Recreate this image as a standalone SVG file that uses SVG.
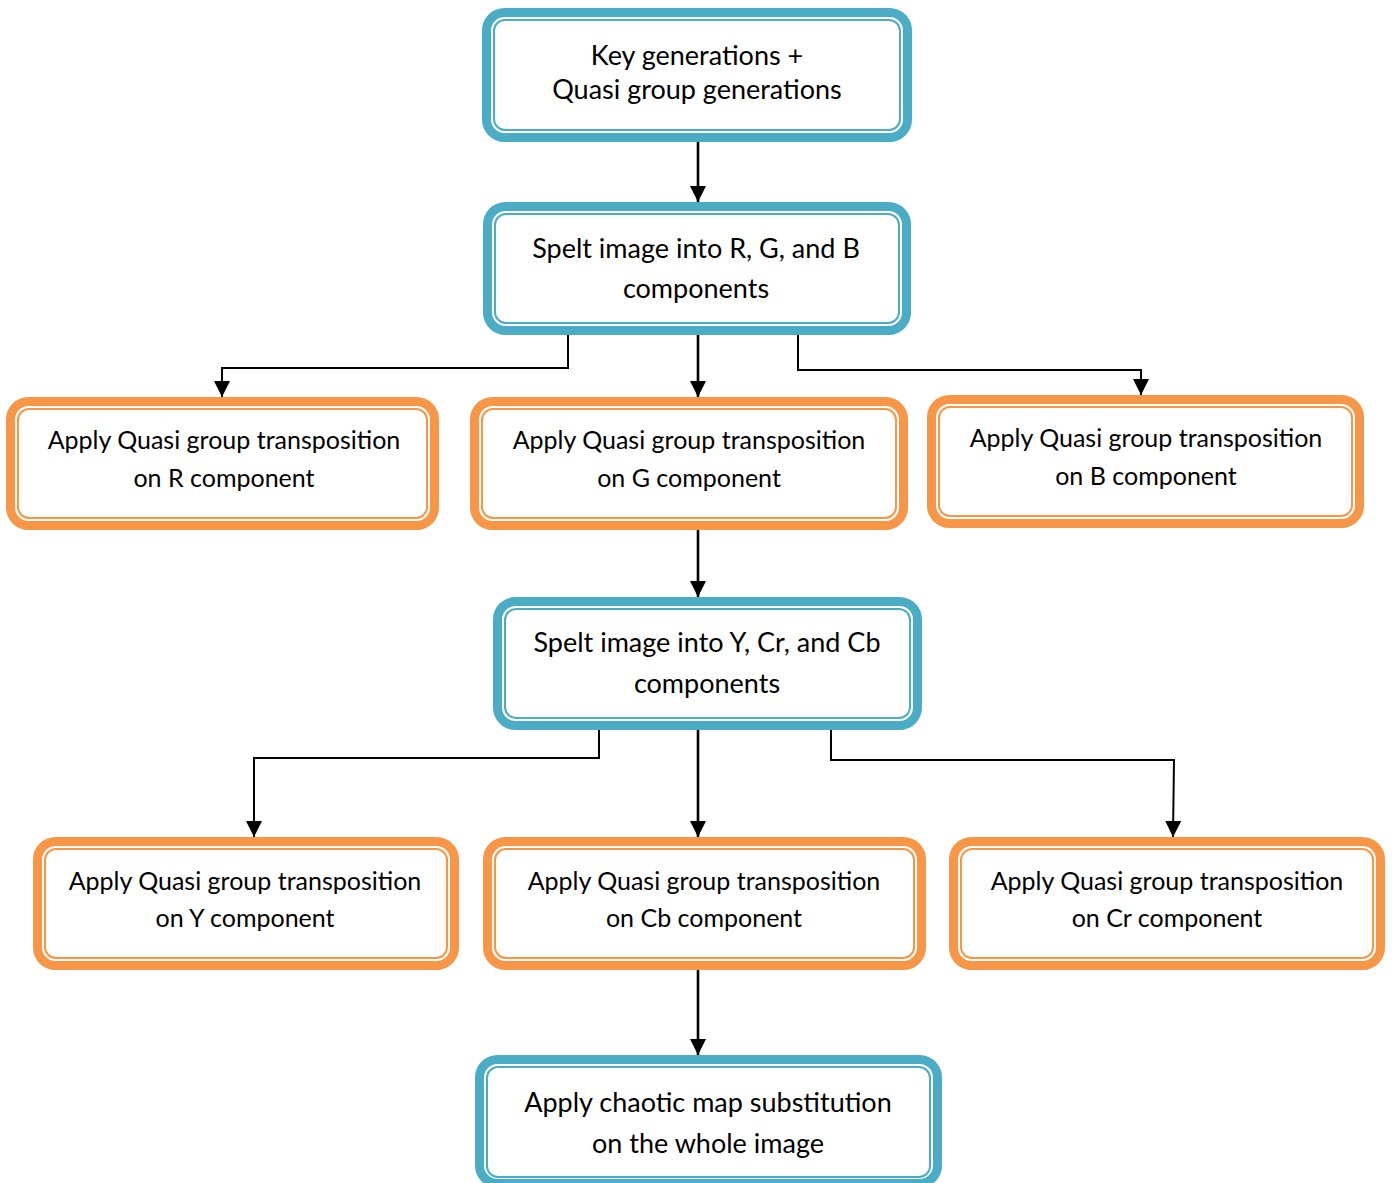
<svg xmlns="http://www.w3.org/2000/svg" width="1392" height="1183" viewBox="0 0 1392 1183">
  <style>
    .outer { fill: #ffffff; stroke-width: 9; }
    .inner { fill: none; stroke-width: 2; }
    .blue .outer, .blue .inner { stroke: #4bacc6; }
    .orange .outer, .orange .inner { stroke: #f79646; }
    .label { font-family: Lato, "Liberation Sans", sans-serif; font-size: 25px; fill: #000000; text-anchor: middle; }
    .blue .label { font-size: 27px; }
    .conn { fill: none; stroke: #000000; stroke-width: 2; }
    .main { stroke-width: 2.6; }
  </style>
  <defs>
    <marker id="arrow" markerUnits="userSpaceOnUse" markerWidth="16" markerHeight="16" viewBox="0 0 16 16" refX="16" refY="8" orient="auto">
      <path d="M0,0 L16,8 L0,16 Z" fill="#000000"/>
    </marker>
  </defs>

  <!-- connectors -->
  <g id="connectors">
    <line class="conn main" x1="698" y1="142" x2="698" y2="202" marker-end="url(#arrow)"/>
    <polyline class="conn" points="568,335 568,368 222,368 222,397" marker-end="url(#arrow)"/>
    <line class="conn main" x1="698" y1="335" x2="698" y2="397" marker-end="url(#arrow)"/>
    <polyline class="conn" points="798,335 798,370 1141,370 1141,395" marker-end="url(#arrow)"/>
    <line class="conn main" x1="698" y1="530" x2="698" y2="597" marker-end="url(#arrow)"/>
    <polyline class="conn" points="599,730 599,758 254,758 254,837" marker-end="url(#arrow)"/>
    <line class="conn main" x1="698" y1="730" x2="698" y2="837" marker-end="url(#arrow)"/>
    <polyline class="conn" points="831,730 831,760 1174,760 1173,837" marker-end="url(#arrow)"/>
    <line class="conn main" x1="698" y1="970" x2="698" y2="1055" marker-end="url(#arrow)"/>
  </g>

  <!-- key and quasi group generation -->
  <g id="node-keygen" class="blue">
    <rect class="outer" x="486.5" y="12.5" width="421" height="125" rx="18"/>
    <rect class="inner" x="494" y="20" width="406" height="110" rx="11"/>
    <text class="label" x="697" y="65">Key generations +</text>
    <text class="label" x="697" y="99">Quasi group generations</text>
  </g>

  <!-- split into RGB -->
  <g id="node-split-rgb" class="blue">
    <rect class="outer" x="487.5" y="206.5" width="419" height="124" rx="18"/>
    <rect class="inner" x="495" y="214" width="404" height="109" rx="11"/>
    <text class="label" x="696" y="258">Spelt image into R, G, and B</text>
    <text class="label" x="696" y="298">components</text>
  </g>

  <!-- R component -->
  <g id="node-r" class="orange">
    <rect class="outer" x="10.5" y="401.5" width="424" height="124" rx="18"/>
    <rect class="inner" x="18" y="409" width="409" height="109" rx="11"/>
    <text class="label" x="224" y="449">Apply Quasi group transposition</text>
    <text class="label" x="224" y="487">on R component</text>
  </g>

  <!-- G component -->
  <g id="node-g" class="orange">
    <rect class="outer" x="474.5" y="401.5" width="429" height="124" rx="18"/>
    <rect class="inner" x="482" y="409" width="414" height="109" rx="11"/>
    <text class="label" x="689" y="449">Apply Quasi group transposition</text>
    <text class="label" x="689" y="487">on G component</text>
  </g>

  <!-- B component -->
  <g id="node-b" class="orange">
    <rect class="outer" x="931.5" y="399.5" width="428" height="124" rx="18"/>
    <rect class="inner" x="939" y="407" width="413" height="109" rx="11"/>
    <text class="label" x="1146" y="447">Apply Quasi group transposition</text>
    <text class="label" x="1146" y="485">on B component</text>
  </g>

  <!-- split into YCrCb -->
  <g id="node-split-ycrcb" class="blue">
    <rect class="outer" x="497.5" y="601.5" width="420" height="124" rx="18"/>
    <rect class="inner" x="505" y="609" width="405" height="109" rx="11"/>
    <text class="label" x="707" y="652">Spelt image into Y, Cr, and Cb</text>
    <text class="label" x="707" y="693">components</text>
  </g>

  <!-- Y component -->
  <g id="node-y" class="orange">
    <rect class="outer" x="37.5" y="841.5" width="417" height="124" rx="18"/>
    <rect class="inner" x="45" y="849" width="402" height="109" rx="11"/>
    <text class="label" x="245" y="890">Apply Quasi group transposition</text>
    <text class="label" x="245" y="927">on Y component</text>
  </g>

  <!-- Cb component -->
  <g id="node-cb" class="orange">
    <rect class="outer" x="487.5" y="841.5" width="434" height="124" rx="18"/>
    <rect class="inner" x="495" y="849" width="419" height="109" rx="11"/>
    <text class="label" x="704" y="890">Apply Quasi group transposition</text>
    <text class="label" x="704" y="927">on Cb component</text>
  </g>

  <!-- Cr component -->
  <g id="node-cr" class="orange">
    <rect class="outer" x="953.5" y="841.5" width="427" height="124" rx="18"/>
    <rect class="inner" x="961" y="849" width="412" height="109" rx="11"/>
    <text class="label" x="1167" y="890">Apply Quasi group transposition</text>
    <text class="label" x="1167" y="927">on Cr component</text>
  </g>

  <!-- chaotic map substitution -->
  <g id="node-chaotic" class="blue">
    <rect class="outer" x="479.5" y="1059.5" width="458" height="124" rx="18"/>
    <rect class="inner" x="487" y="1067" width="443" height="110" rx="11"/>
    <text class="label" x="708" y="1112">Apply chaotic map substitution</text>
    <text class="label" x="708" y="1153">on the whole image</text>
  </g>
</svg>
